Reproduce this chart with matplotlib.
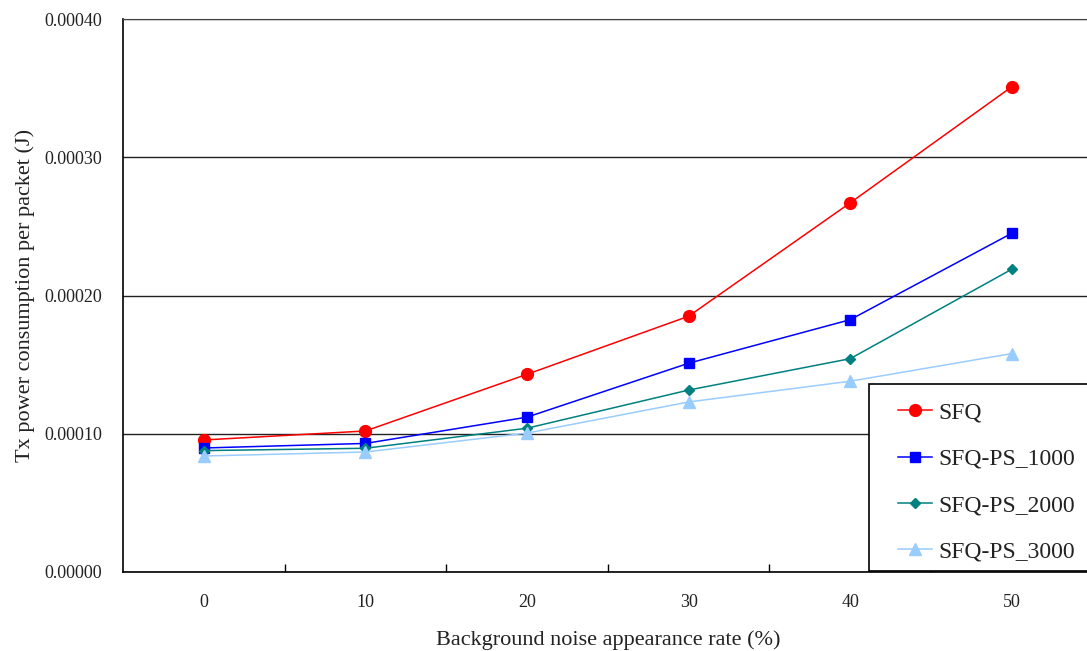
import numpy as np
import matplotlib
matplotlib.use("Agg")
import matplotlib.pyplot as plt
from matplotlib.ticker import FixedLocator
from matplotlib.patches import Rectangle

plt.rcParams['font.family'] = ['Liberation Serif', 'DejaVu Serif']

# data
rates = ['0', '10', '20', '30', '40', '50']
sfq = [0.0000955, 0.000102, 0.000143, 0.000185, 0.000267, 0.000351]
sfq_ps_1000 = [0.0000897, 0.000093, 0.000112, 0.000151, 0.0001825, 0.000245]
sfq_ps_2000 = [0.0000878, 0.0000895, 0.000104, 0.0001316, 0.0001543, 0.000219]
sfq_ps_3000 = [0.0000839, 0.0000868, 0.0001005, 0.000123, 0.000138, 0.000158]
names = ['SFQ', 'SFQ-PS_1000', 'SFQ-PS_2000', 'SFQ-PS_3000']

W, H = 1087, 651
fig = plt.figure(figsize=(W/100, H/100), dpi=100)
ax = fig.add_axes([123/W, 1-572/H, 969.6/W, (572-19)/H])

x = np.arange(len(rates))
ax.plot(x, sfq, color='#FF0000', marker='o', ms=8.5, lw=1.1, label=names[0])
ax.plot(x, sfq_ps_1000, color='#0000FF', marker='s', ms=7.5, lw=1.1, label=names[1])
ax.plot(x, sfq_ps_2000, color='#008080', marker='D', ms=5.5, lw=1.1, label=names[2])
ax.plot(x, sfq_ps_3000, color='#99CCFF', marker='^', ms=8.5, lw=1.1, label=names[3])

ax.set_xlim(-0.5, 5.5)
ax.set_ylim(0, 0.0004)
ax.set_yticks([0, 0.0001, 0.0002, 0.0003, 0.0004])
ax.set_yticklabels(['0.00000', '0.00010', '0.00020', '0.00030', '0.00040'])
ax.set_xticks(x)
ax.set_xticklabels(rates)
ax.xaxis.set_minor_locator(FixedLocator(x[:-1] + 0.5))
ax.tick_params(axis='x', which='major', length=0, pad=16, labelsize=13, labelcolor='#222222')
ax.tick_params(axis='x', which='minor', direction='in', length=6, width=1, color='black')
ax.tick_params(axis='y', length=0, pad=15, labelsize=13, labelcolor='#222222')

ax.grid(axis='y', color='#222222', lw=1)
ax.set_axisbelow(True)
for s in ['left', 'bottom']:
    ax.spines[s].set_color('black')
    ax.spines[s].set_linewidth(1.2)
ax.spines['top'].set_color('#444444')
ax.spines['right'].set_visible(False)

ax.set_xlabel('Background noise appearance rate (%)', fontsize=16, labelpad=14, color='#222222')
ax.set_ylabel('Tx power consumption per packet (J)', fontsize=16, labelpad=7, color='#222222')

# legend box drawn separately so the entries can sit inside it like the original
fig.patches.append(Rectangle((869/W, 1-571/H), 230/W, (571-384)/H,
                             transform=fig.transFigure, facecolor='white',
                             edgecolor='black', lw=1.2, zorder=5))
leg = fig.legend(*ax.get_legend_handles_labels(), loc='upper left',
                 bbox_to_anchor=(898/W, 1-402/H), fontsize=17, frameon=False,
                 borderpad=0, borderaxespad=0, labelspacing=1.05,
                 handlelength=1.45, handletextpad=0.28)
leg.set_zorder(6)
for t in leg.get_texts():
    t.set_color('#222222')

fig.savefig('out.png', dpi=100)
